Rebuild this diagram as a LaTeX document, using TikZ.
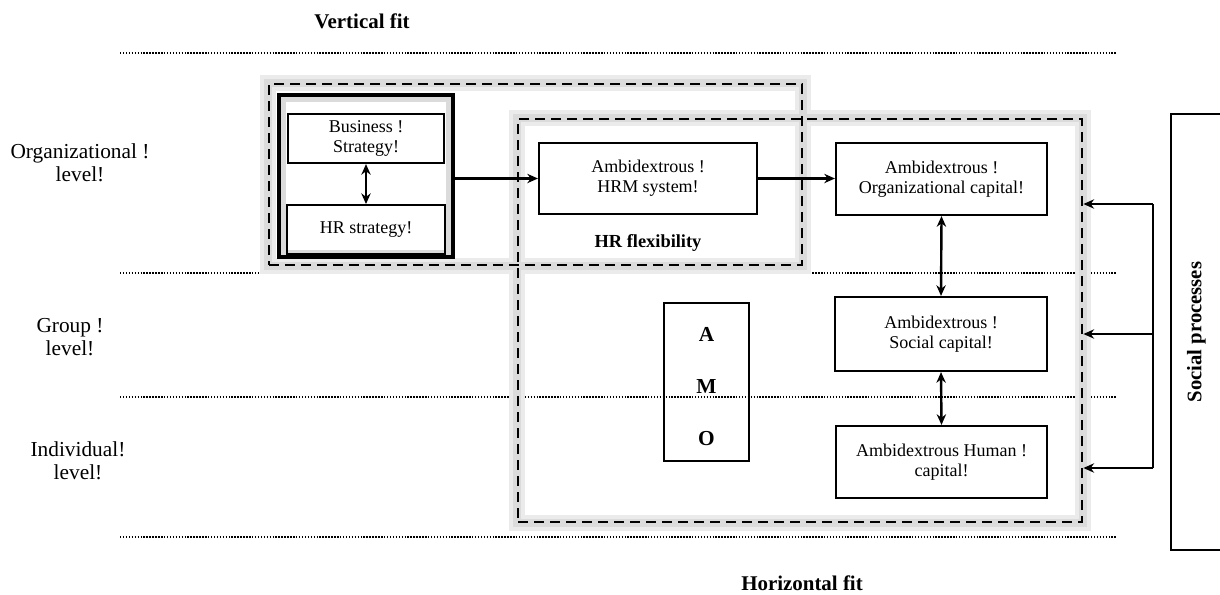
\documentclass[tikz,border=0pt]{standalone}
\usepackage{fontspec}
\setmainfont{Liberation Serif}
\usepackage{tikz}
\usetikzlibrary{positioning,arrows.meta,calc,backgrounds}

\begin{document}
\begin{tikzpicture}[
    x=0.75pt, y=-0.75pt,
    capbox/.style={rectangle, draw, line width=1.6pt, align=center, inner sep=2pt, font=\fontsize{13.5}{15}\selectfont},
    stratbox/.style={rectangle, draw, line width=2.3pt, inner sep=0pt},
    fitbox/.style={rectangle, draw, line width=2.1pt, dash pattern=on 7.5pt off 4.5pt, inner sep=0pt},
    halo/.style={draw=black!8, line width=12pt},
    haloin/.style={draw=black!14, line width=6pt},
    levelline/.style={line width=1.1pt, dash pattern=on 1.1pt off 1.1pt},
    levellabel/.style={align=center, font=\fontsize{16}{17.5}\selectfont},
    fitlabel/.style={font=\bfseries\fontsize{15.7}{18}\selectfont},
    arrow/.style={-{Stealth[length=8pt,width=7pt]}, line width=1.8pt},
    dblarrow/.style={{Stealth[length=8pt,width=7pt]}-{Stealth[length=8pt,width=7pt]}, line width=1.8pt}
]
\useasboundingbox (0,0) rectangle (1220,594);

% titles and levels
\node[fitlabel] (vtitle) at (362,21) {Vertical fit};
\node[fitlabel] (htitle) at (802,583) {Horizontal fit};
\node[levellabel] (orglevel) at (80,163) {Organizational !\\level!};
\node[levellabel] (grplevel) at (70,337) {Group !\\level!};
\node[levellabel] (indlevel) at (78,461) {Individual!\\level!};

% fit boxes
\node[fitbox, minimum width=399.75pt, minimum height=135.75pt] (vfit) at (535.5,174.5) {};
\node[fitbox, minimum width=423pt, minimum height=302.25pt] (hfit) at (800,320.5) {};

% strategy
\node[stratbox, minimum width=130.5pt, minimum height=121.5pt] (strat) at (366,176) {};
\node[capbox, minimum width=117pt, minimum height=36.75pt] (bus) at (366,138.5) {Business !\\Strategy!};
\node[capbox, minimum width=118.5pt, minimum height=36.75pt, below=30pt of bus] (hrs) {HR strategy!};

% capitals
\node[capbox, minimum width=163.5pt, minimum height=53.25pt] (hrm) at (648,178.5) {Ambidextrous !\\HRM system!};
\node[font=\bfseries\fontsize{13.8}{16}\selectfont] (flex) at (648,243) {HR flexibility};
\node[capbox, minimum width=158.25pt, minimum height=54pt] (org) at (941.5,179) {Ambidextrous !\\Organizational capital!};
\node[capbox, minimum width=159pt, minimum height=55.5pt] (soc) at (941,334) {Ambidextrous !\\Social capital!};
\node[capbox, minimum width=158.25pt, minimum height=54pt] (hum) at (941.5,462) {Ambidextrous Human !\\capital!};

% AMO
\node[capbox, minimum width=63.75pt, minimum height=118.5pt] (amo) at (706.5,382) {};
\node[align=center, font=\bfseries\fontsize{16}{17}\selectfont] (amotext) at ($(amo)+(0,5)$) {A\\[22pt]M\\[22pt]O};

% social processes
\node[capbox, rotate=90, minimum width=327pt, minimum height=38.25pt, font=\bfseries\fontsize{15.5}{18}\selectfont] (proc) at (1196.5,332) {Social processes};
\coordinate (fb1) at (1153,204);
\coordinate (fb2) at (1153,334);
\coordinate (fb3) at (1153,468);

% arrows
\draw[dblarrow] (bus.south) -- (hrs.north);
\draw[arrow] (strat.east |- hrm.west) -- (hrm.west);
\draw[arrow] (hrm.east) -- (org.west |- hrm.east);
\draw[dblarrow] (org.south) -- (soc.north);
\draw[dblarrow] (soc.south) -- (hum.north);
\draw[line width=1.8pt] (fb1) -- (fb3);
\draw[arrow] (fb1) -- (fb1 -| hfit.east);
\draw[arrow] (fb2) -- (fb2 -| hfit.east);
\draw[arrow] (fb3) -- (fb3 -| hfit.east);

\begin{scope}[on background layer]
\fill[white] (0,0) rectangle (1220,594);
\foreach \y in {53,273,397,537}
    \draw[levelline] (120,\y) -- (1117,\y);
\draw[halo] (vfit.north west) rectangle (vfit.south east);
\draw[halo] (hfit.north west) rectangle (hfit.south east);
\draw[haloin] (vfit.north west) rectangle (vfit.south east);
\draw[haloin] (hfit.north west) rectangle (hfit.south east);
\draw[haloin] ([shift={(5,5)}]strat.north west) rectangle ([shift={(-5,-5)}]strat.south east);
\end{scope}
\end{tikzpicture}
\end{document}
